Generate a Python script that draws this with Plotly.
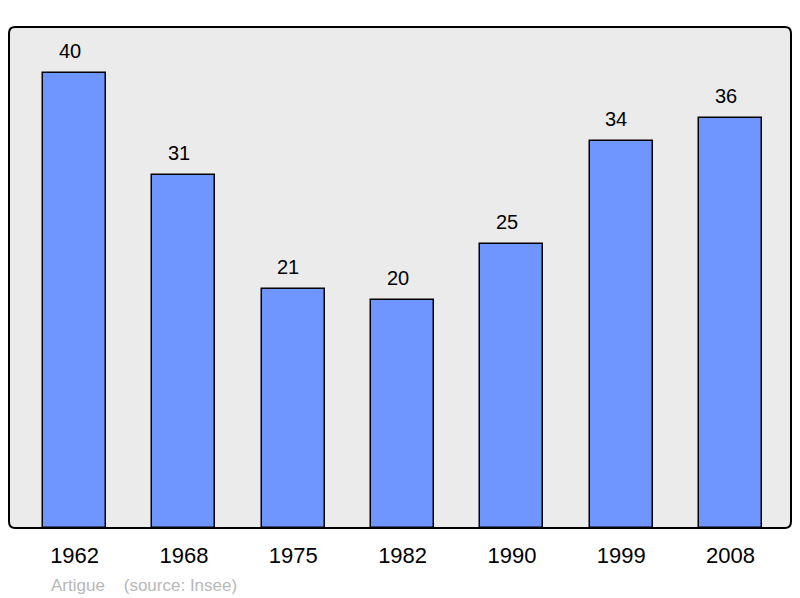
import plotly.graph_objects as go

years = ["1962", "1968", "1975", "1982", "1990", "1999", "2008"]
population = [40, 31, 21, 20, 25, 34, 36]
positions = list(range(len(years)))

fig = go.Figure()

fig.add_trace(
    go.Bar(
        x=positions,
        y=population,
        width=0.576,
        marker=dict(color="#6f96ff", line=dict(color="black", width=1.5)),
        hoverinfo="skip",
    )
)

for xi, v in zip(positions, population):
    fig.add_annotation(
        x=xi, y=v, text=str(v), showarrow=False, yshift=22, xshift=-5,
        font=dict(size=20, color="black"),
    )

# rounded frame around the plot area
r = 0.008
ry = r * 782 / 501
frame = (
    f"M {r},0 L {1-r},0 Q 1,0 1,{ry} L 1,{1-ry} Q 1,1 {1-r},1 "
    f"L {r},1 Q 0,1 0,{1-ry} L 0,{ry} Q 0,0 {r},0 Z"
)
fig.add_shape(type="path", xref="paper", yref="paper", path=frame,
              line=dict(color="black", width=2), layer="above")

fig.add_annotation(
    xref="paper", yref="paper", x=0.051, y=-0.1138, xanchor="left", yanchor="middle",
    text="Artigue&nbsp;&nbsp;&nbsp;&nbsp;(source: Insee)", showarrow=False,
    font=dict(size=17, color="#b8b8b8"),
)

fig.update_layout(
    width=800,
    height=598,
    margin=dict(l=9, r=9, t=27, b=70),
    plot_bgcolor="#ebebeb",
    paper_bgcolor="white",
    font=dict(family="Liberation Sans, Arial, sans-serif"),
    showlegend=False,
    bargap=0,
    xaxis=dict(
        range=[-0.6, 6.5525],
        tickvals=positions,
        ticktext=years,
        ticks="outside",
        ticklen=8,
        tickcolor="rgba(0,0,0,0)",
        tickfont=dict(size=22, color="black"),
        showgrid=False,
        zeroline=False,
        fixedrange=True,
    ),
    yaxis=dict(
        range=[0, 44.04],
        showticklabels=False,
        showgrid=False,
        zeroline=False,
        fixedrange=True,
    ),
)

fig.write_html(
    "out.html",
    config={"displayModeBar": False},
    post_script="document.body.style.margin='0';",
)
